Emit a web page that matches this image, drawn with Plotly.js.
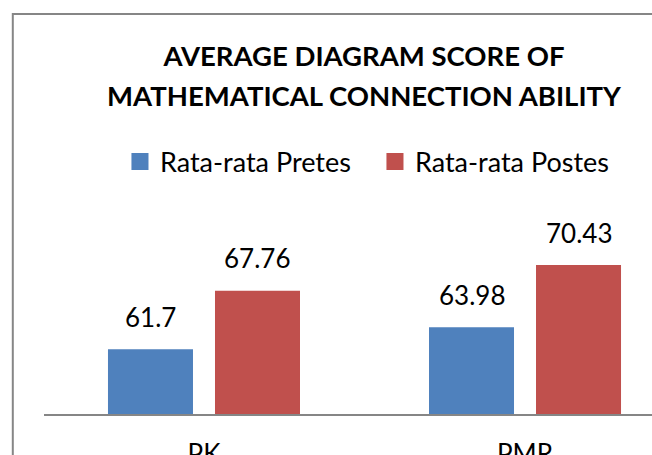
<!DOCTYPE html>
<html>
<head>
<meta charset="utf-8">
<script src="https://cdn.plot.ly/plotly-3.0.1.min.js"></script>
<style>
html,body{margin:0;padding:0;overflow:hidden;background:#fff;}
#chart{width:652px;height:455px;}
</style>
</head>
<body>
<div id="chart"></div>
<script>
const categories = ["PK", "PMR"];
const seriesNames = ["Rata-rata Pretes", "Rata-rata Postes"];
const pretes = [61.7, 63.98];
const postes = [67.76, 70.43];
const colors = ["#4F81BD", "#C0504D"];
const titleLines = ["AVERAGE DIAGRAM SCORE OF", "MATHEMATICAL CONNECTION ABILITY"];

const FONT = "Lato, 'Open Sans', sans-serif";

const traces = [pretes, postes].map((vals, i) => ({
  type: "bar",
  name: seriesNames[i],
  x: categories,
  y: vals,
  marker: {color: colors[i], line: {width: 0}},
  hoverinfo: "skip"
}));

const annotations = [];
[pretes, postes].forEach((vals, i) => {
  vals.forEach((v, j) => {
    annotations.push({
      x: categories[j], y: v, xref: "x", yref: "y",
      text: String(v), showarrow: false,
      xshift: i === 0 ? -53.5 : 53.5, yshift: 14.5,
      yanchor: "bottom", xanchor: "center",
      font: {family: FONT, size: 26, color: "#000"}
    });
  });
});

const layout = {
  width: 652, height: 455,
  margin: {l: 44, r: 0, t: 221, b: 41, pad: 0},
  paper_bgcolor: "#fff", plot_bgcolor: "#fff",
  title: {
    text: titleLines.map(t => '<span style="font-size:27.5px">' + t + '</span>').join("<br>"),
    font: {family: FONT, size: 31, color: "#000", weight: "bold"},
    x: 364 / 652, xref: "container", xanchor: "center",
    y: 1 - 66 / 455, yref: "container", yanchor: "top"
  },
  showlegend: true,
  legend: {
    orientation: "h", xref: "container", yref: "container",
    x: 0.184, xanchor: "left", y: 1 - 162 / 455, yanchor: "middle",
    font: {family: FONT, size: 27, color: "#000"},
    entrywidth: 210, entrywidthmode: "pixels",
    bgcolor: "rgba(0,0,0,0)", borderwidth: 0
  },
  barmode: "group", bargap: 0.3333, bargroupgap: 0.2056,
  xaxis: {
    type: "category", range: [-0.4984, 1.3956],
    showline: true, linecolor: "#868686", linewidth: 2,
    ticks: "", showgrid: false, zeroline: false,
    ticklabelstandoff: 16,
    tickfont: {family: FONT, size: 26, color: "#000"},
    fixedrange: true
  },
  yaxis: {
    range: [55, 75], visible: false, showgrid: false, zeroline: false, fixedrange: true
  },
  annotations: annotations,
  shapes: [{
    type: "rect", xref: "paper", yref: "paper",
    x0: (12.8 - 44) / 608, x1: 1.3, y0: -1, y1: (414 - 14) / 193,
    line: {color: "#868686", width: 2}, fillcolor: "rgba(0,0,0,0)", layer: "above"
  }]
};

Plotly.newPlot("chart", traces, layout, {displayModeBar: false, staticPlot: true}).then(gd => {
  gd.querySelectorAll(".legend .legendpoints path").forEach(p => {
    const t = p.getAttribute("transform") || "";
    p.setAttribute("transform", t + " scale(1.42)");
  });
});
</script>
</body>
</html>
